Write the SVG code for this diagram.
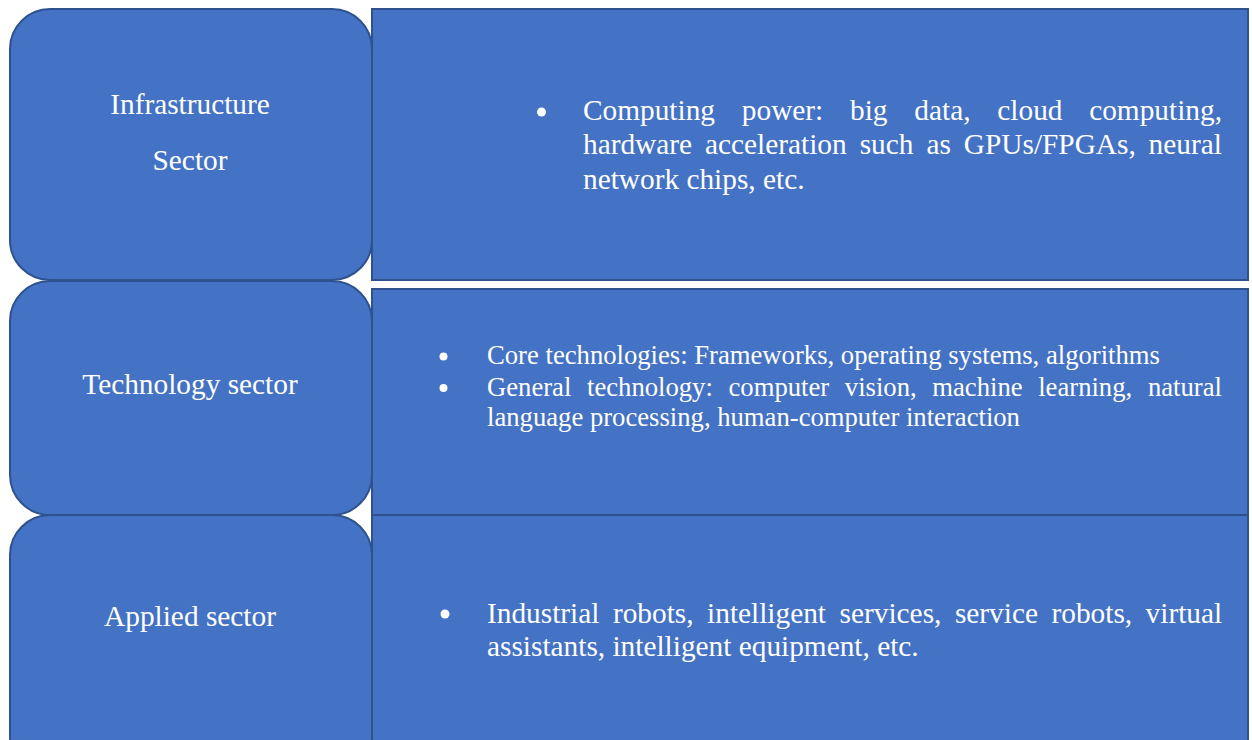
<svg xmlns="http://www.w3.org/2000/svg" width="1252" height="740" viewBox="0 0 1252 740">
  <style>
    .box { fill: #4472C4; stroke: #2F528F; stroke-width: 2; }
    .label { font-family: "Liberation Serif", "Times New Roman", serif; font-size: 29.33px; fill: #FFFFFF; }
    .small { font-size: 26.67px; }
    .bullet { fill: #FFFFFF; }
  </style>
  <rect width="1252" height="740" fill="#FFFFFF"/>

  <!-- Row 1: infrastructure -->
  <g id="infrastructure-sector">
    <rect class="box" x="10" y="9" width="362" height="271" rx="40" ry="40"/>
    <text class="label" text-anchor="middle"><tspan x="190" y="114">Infrastructure</tspan><tspan x="190" y="170">Sector</tspan></text>
  </g>
  <g id="infrastructure-detail">
    <rect class="box" x="372" y="9" width="876" height="271"/>
    <circle class="bullet" cx="541.5" cy="112" r="4.5"/>
    <text class="label" y="119.5"><tspan x="583">Computing</tspan><tspan x="741.8">power:</tspan><tspan x="850">big</tspan><tspan x="914.3">data,</tspan><tspan x="997.3">cloud</tspan><tspan x="1089.2">computing,</tspan></text>
    <text class="label" y="154"><tspan x="583">hardware</tspan><tspan x="705">acceleration</tspan><tspan x="859.7">such</tspan><tspan x="926.4">as</tspan><tspan x="963.8">GPUs/FPGAs,</tspan><tspan x="1148.6">neural</tspan></text>
    <text class="label" x="583" y="188.5">network chips, etc.</text>
  </g>

  <!-- Row 2: technology -->
  <g id="technology-sector">
    <rect class="box" x="10" y="281" width="362" height="234" rx="40" ry="40"/>
    <text class="label" x="190" y="394" text-anchor="middle">Technology sector</text>
  </g>
  <g id="technology-detail">
    <rect class="box" x="372" y="289" width="876" height="226"/>
    <circle class="bullet" cx="443.5" cy="356.5" r="4"/>
    <circle class="bullet" cx="443.5" cy="388" r="4"/>
    <text class="label small" x="487" y="364">Core technologies: Frameworks, operating systems, algorithms</text>
    <text class="label small" y="395.5"><tspan x="487">General</tspan><tspan x="587">technology:</tspan><tspan x="728.5">computer</tspan><tspan x="844.8">vision,</tspan><tspan x="932.3">machine</tspan><tspan x="1038.2">learning,</tspan><tspan x="1147.9">natural</tspan></text>
    <text class="label small" x="487" y="426">language processing, human-computer interaction</text>
  </g>

  <!-- Row 3: applications -->
  <g id="applied-sector">
    <rect class="box" x="10" y="515" width="362" height="262" rx="40" ry="40"/>
    <text class="label" x="190" y="626" text-anchor="middle">Applied sector</text>
  </g>
  <g id="applied-detail">
    <rect class="box" x="372" y="515" width="876" height="262"/>
    <circle class="bullet" cx="445" cy="614" r="4.5"/>
    <text class="label" y="622.5"><tspan x="487">Industrial</tspan><tspan x="612.9">robots,</tspan><tspan x="707.1">intelligent</tspan><tspan x="839.6">services,</tspan><tspan x="954.9">service</tspan><tspan x="1051.5">robots,</tspan><tspan x="1145.6">virtual</tspan></text>
    <text class="label" x="487" y="656">assistants, intelligent equipment, etc.</text>
  </g>

  <g id="connectors"/>
</svg>
